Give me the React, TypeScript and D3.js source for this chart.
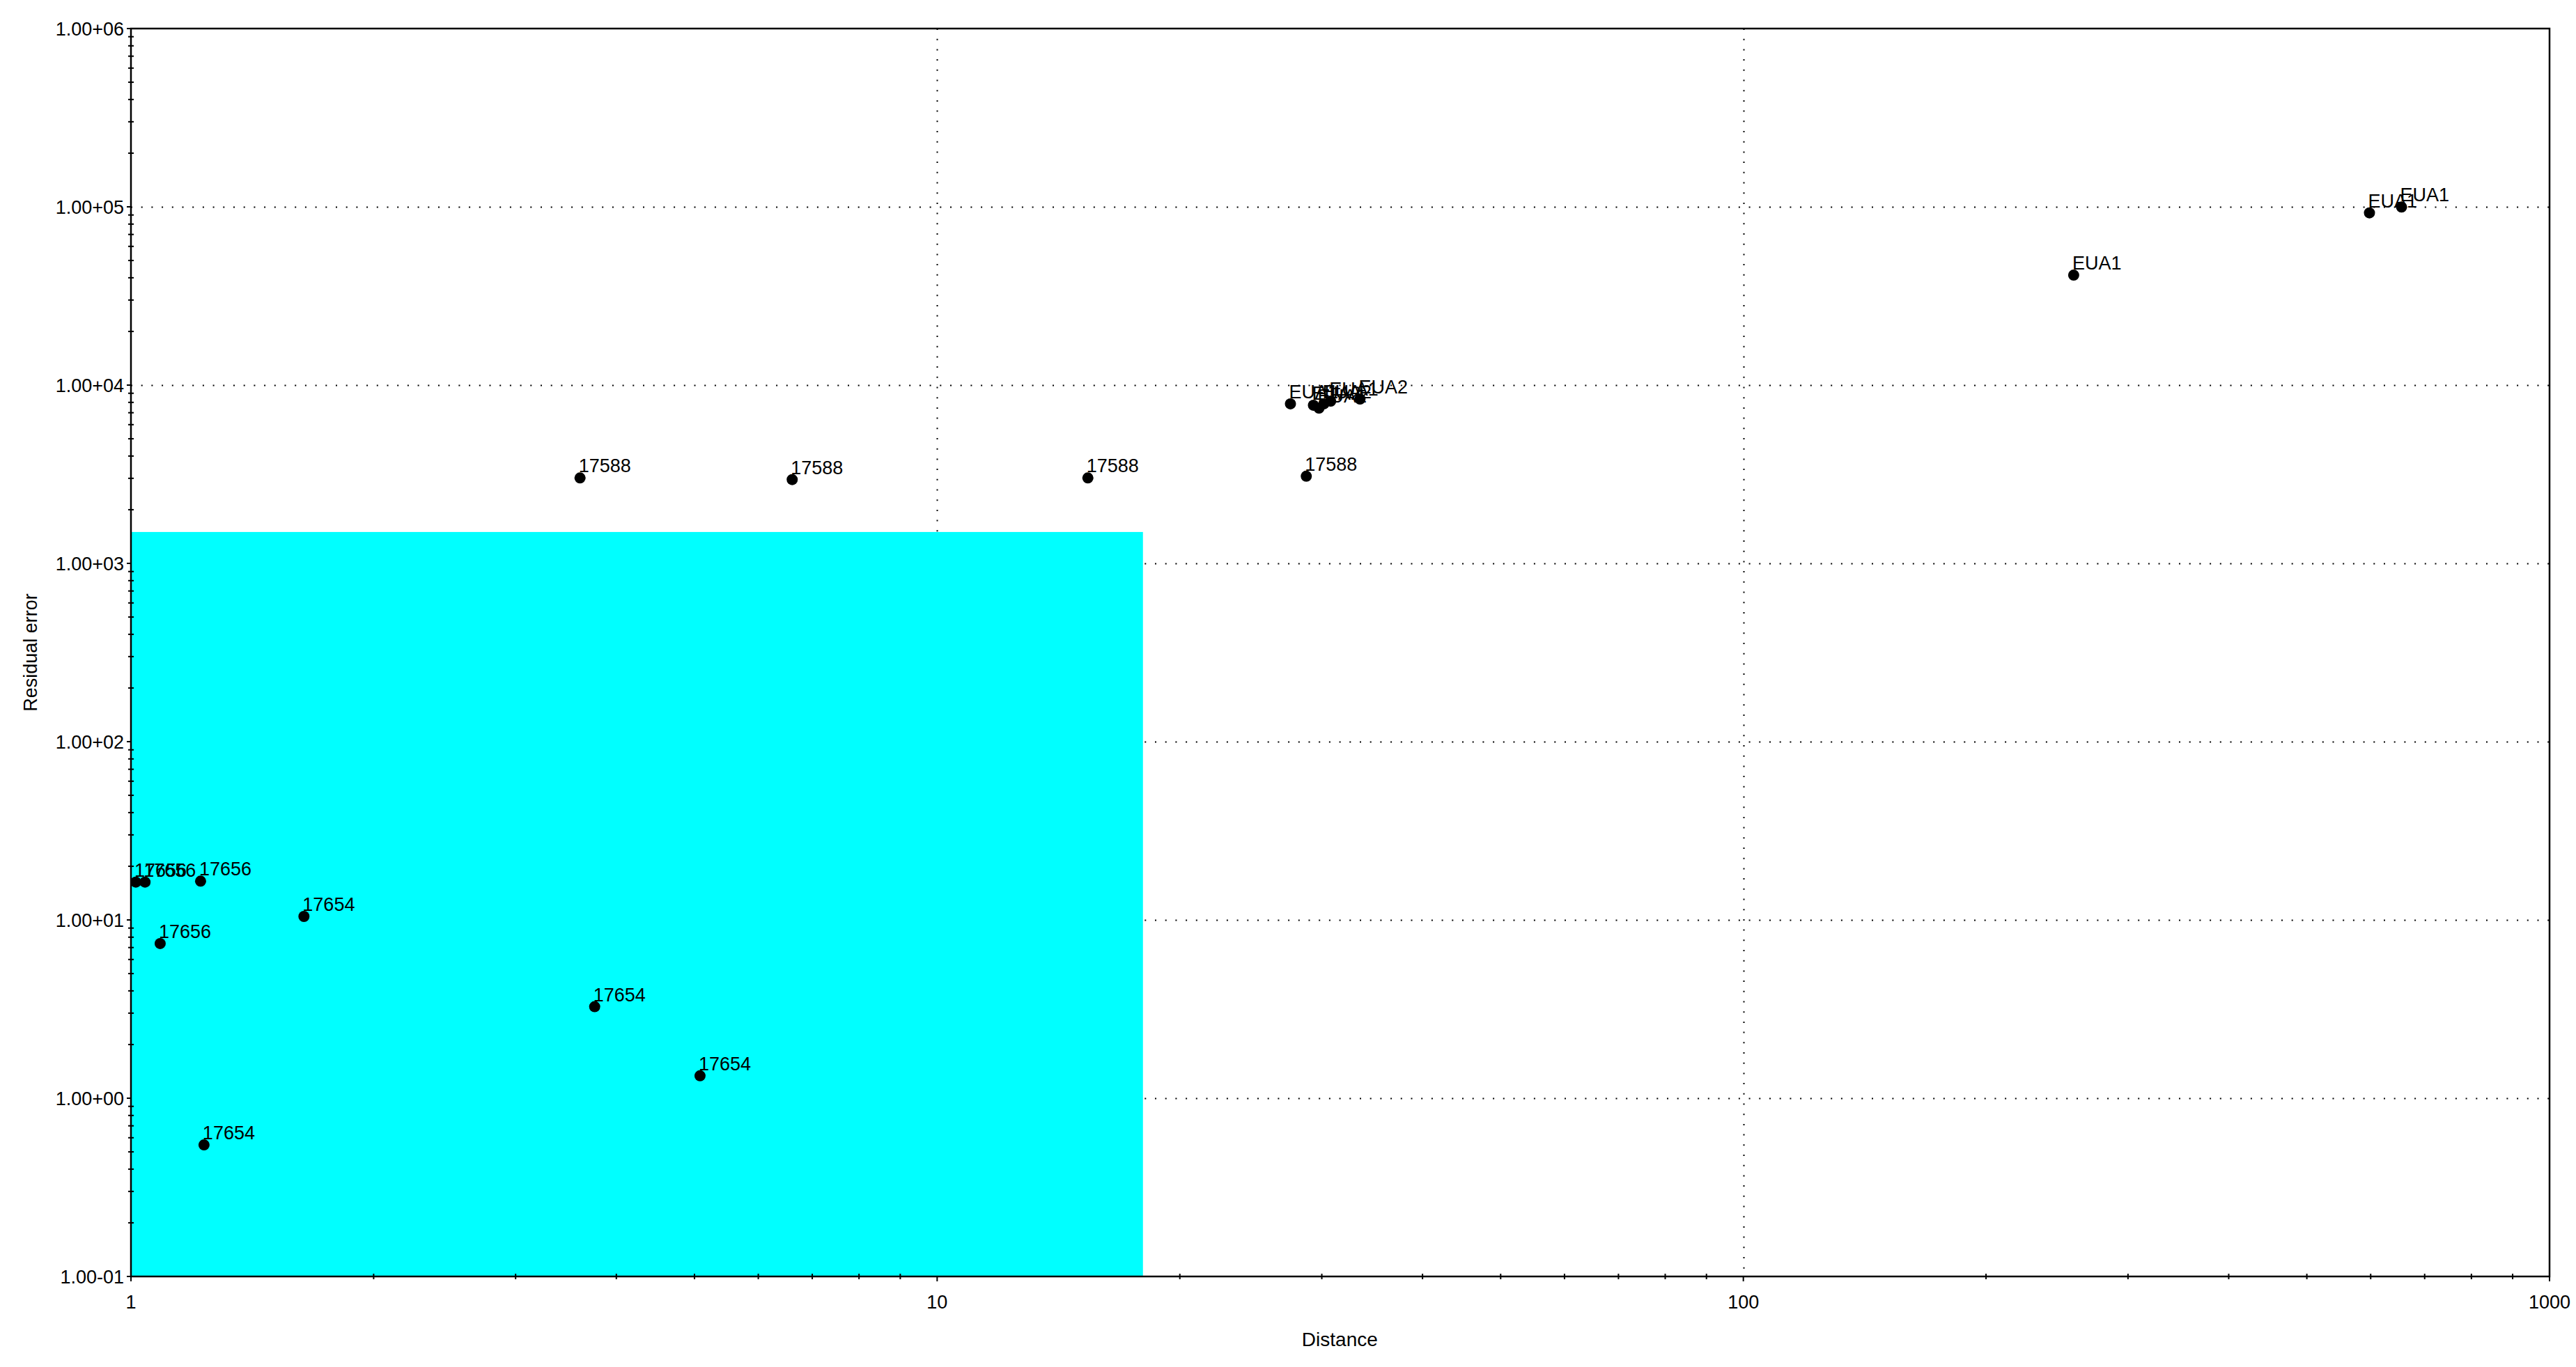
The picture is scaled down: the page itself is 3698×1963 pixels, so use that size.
import React, { useRef, useEffect } from 'react'
import * as d3 from 'd3'

// point data
const pointNames = [
  '17656', '17656', '17656', '17656',
  '17654', '17654', '17654', '17654',
  '17588', '17588', '17588', '17588',
  'EUA1', 'EUA2', 'EUA1', 'EUA2', 'EUA1', 'EUA2',
  'EUA1', 'EUA1', 'EUA1',
]
const distance = [
  1.014, 1.041, 1.22, 1.087,
  1.639, 3.76, 5.08, 1.232,
  3.606, 6.61, 15.38, 28.7,
  27.43, 29.29, 29.76, 30.18, 30.77, 33.46,
  256.9, 597.9, 655.3,
]
const residual = [
  16.3, 16.3, 16.5, 7.37,
  10.46, 3.26, 1.336, 0.547,
  3015, 2951, 3015, 3083,
  7848, 7709, 7430, 7848, 8128, 8356,
  41400, 92500, 99700,
]

// shaded region (distance < 18, residual < 1500)
const zoneX = [1, 18]
const zoneY = [0.1, 1500]

const xDomain = [1, 1000]
const yDomain = [0.1, 1e6]
const xTickLabels = ['1', '10', '100', '1000']

const fmtY = (v: number) => {
  const e = Math.round(Math.log10(v))
  const s = e >= 0 ? '+' : '-'
  return `1.00${s}${String(Math.abs(e)).padStart(2, '0')}`
}

export default function App() {
  const visEl = useRef<HTMLDivElement>(null)
  const width = 3698
  const height = 1963

  useEffect(() => {
    const root = d3.select(visEl.current)
    root.selectAll('*').remove()
    const svg = root.append('svg')
      .attr('width', width)
      .attr('height', height)
      .style('position', 'absolute')
      .style('left', 0)
      .style('top', 0)
      .style('font-family', '"Liberation Sans", Arial, sans-serif')

    const margin = { top: 41, right: 38, bottom: 130, left: 188 }
    const innerWidth = width - margin.left - margin.right
    const innerHeight = height - margin.top - margin.bottom

    const xScale = d3.scaleLog().domain(xDomain).range([0, innerWidth])
    const yScale = d3.scaleLog().domain(yDomain).range([innerHeight, 0])

    const g = svg.append('g')
      .attr('transform', `translate(${margin.left},${margin.top})`)

    const xMajor = xScale.ticks().filter(d => Math.abs(Math.log10(d) - Math.round(Math.log10(d))) < 1e-9)
    const yMajor = yScale.ticks().filter(d => Math.abs(Math.log10(d) - Math.round(Math.log10(d))) < 1e-9)
    const xMinor = xScale.ticks().filter(d => !xMajor.includes(d))
    const yMinor = yScale.ticks().filter(d => !yMajor.includes(d))

    // dotted grid
    g.append('g').selectAll('line')
      .data(yMajor.slice(1, -1))
      .join('line')
      .attr('x1', 0).attr('x2', innerWidth)
      .attr('y1', d => Math.round(yScale(d)) + 0.5).attr('y2', d => Math.round(yScale(d)) + 0.5)
      .attr('stroke', '#000').attr('stroke-width', 2)
      .attr('stroke-dasharray', '2 12.7')
    g.append('g').selectAll('line')
      .data(xMajor.slice(1, -1))
      .join('line')
      .attr('y1', 0).attr('y2', innerHeight)
      .attr('x1', d => Math.round(xScale(d)) + 0.5).attr('x2', d => Math.round(xScale(d)) + 0.5)
      .attr('stroke', '#000').attr('stroke-width', 2)
      .attr('stroke-dasharray', '2 12.7')

    // cyan zone
    g.append('rect')
      .attr('x', xScale(zoneX[0]))
      .attr('y', yScale(zoneY[1]))
      .attr('width', xScale(zoneX[1]) - xScale(zoneX[0]))
      .attr('height', yScale(zoneY[0]) - yScale(zoneY[1]))
      .attr('fill', '#00ffff')

    // frame
    g.append('rect')
      .attr('x', 0).attr('y', 0)
      .attr('width', innerWidth).attr('height', innerHeight)
      .attr('fill', 'none').attr('stroke', '#000').attr('stroke-width', 2.5)

    // y ticks
    const yAxisG = g.append('g')
    yAxisG.selectAll('line.minor')
      .data(yMinor)
      .join('line')
      .attr('class', 'minor')
      .attr('x1', -4).attr('x2', 4)
      .attr('y1', d => yScale(d)).attr('y2', d => yScale(d))
      .attr('stroke', '#000').attr('stroke-width', 2)
    yAxisG.selectAll('line.major')
      .data(yMajor)
      .join('line')
      .attr('class', 'major')
      .attr('x1', -6).attr('x2', 0)
      .attr('y1', d => yScale(d)).attr('y2', d => yScale(d))
      .attr('stroke', '#000').attr('stroke-width', 2)
    yAxisG.selectAll('text')
      .data(yMajor)
      .join('text')
      .attr('x', -10)
      .attr('y', d => yScale(d))
      .attr('dy', '0.36em')
      .attr('text-anchor', 'end')
      .attr('font-size', 27)
      .attr('fill', '#000')
      .text(d => fmtY(d))

    // x ticks
    const xAxisG = g.append('g').attr('transform', `translate(0,${innerHeight})`)
    xAxisG.selectAll('line.minor')
      .data(xMinor)
      .join('line')
      .attr('class', 'minor')
      .attr('y1', -4).attr('y2', 4)
      .attr('x1', d => xScale(d)).attr('x2', d => xScale(d))
      .attr('stroke', '#000').attr('stroke-width', 2)
    xAxisG.selectAll('line.major')
      .data(xMajor)
      .join('line')
      .attr('class', 'major')
      .attr('y1', 0).attr('y2', 7)
      .attr('x1', d => xScale(d)).attr('x2', d => xScale(d))
      .attr('stroke', '#000').attr('stroke-width', 2)
    xAxisG.selectAll('text')
      .data(xMajor)
      .join('text')
      .attr('x', d => xScale(d))
      .attr('y', 46)
      .attr('text-anchor', 'middle')
      .attr('font-size', 27)
      .attr('fill', '#000')
      .text((d, i) => xTickLabels[i])

    // axis titles
    xAxisG.append('text')
      .attr('x', xScale(10) + 578)
      .attr('y', 100)
      .attr('text-anchor', 'middle')
      .attr('font-size', 28)
      .attr('fill', '#000')
      .text('Distance')
    g.append('text')
      .attr('transform', `translate(-145,${innerHeight / 2}) rotate(-90)`)
      .attr('text-anchor', 'middle')
      .attr('dy', '0.36em')
      .attr('font-size', 27)
      .attr('fill', '#000')
      .text('Residual error')

    // points + labels
    const pts = distance.map((d, i) => ({ x: d, y: residual[i], name: pointNames[i] }))
    const pg = g.append('g')
    pg.selectAll('circle')
      .data(pts)
      .join('circle')
      .attr('cx', d => xScale(d.x))
      .attr('cy', d => yScale(d.y))
      .attr('r', 8)
      .attr('fill', '#000')
    pg.selectAll('text')
      .data(pts)
      .join('text')
      .attr('x', d => xScale(d.x) - 2)
      .attr('y', d => yScale(d.y) - 8)
      .attr('font-size', 27)
      .attr('fill', '#000')
      .text(d => d.name)
  })

  return (
    <div>
      <div ref={visEl}></div>
    </div>
  )
}
